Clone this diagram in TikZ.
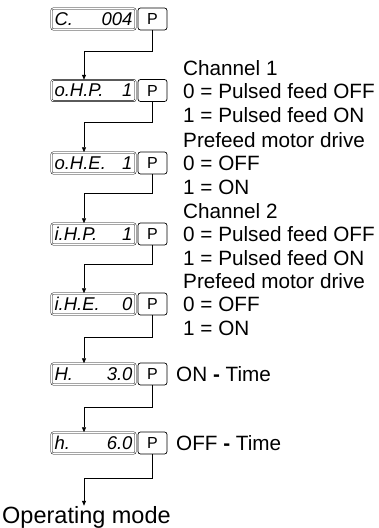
\documentclass[tikz,border=0pt]{standalone}
\usepackage{fontspec}
\setmainfont{Liberation Sans}
\newfontfamily\segfont{Liberation Sans}
\usetikzlibrary{arrows.meta}
\tikzset{
  disp/.style={draw, double, double distance=0.9pt, line width=0.45pt, rounded corners=2pt,
    minimum width=84pt, minimum height=21pt, inner sep=0pt},
  pbox/.style={draw, line width=0.7pt, rounded corners=2.5pt, minimum width=29pt, minimum height=22pt,
    inner sep=0pt, font=\fontsize{16}{16}\selectfont},
  conn/.style={draw, line width=0.7pt, -{Triangle[length=5pt,width=4pt]}},
  txt/.style={anchor=base west, inner sep=0pt, font=\fontsize{20.7}{20.7}\selectfont},
}
\newcommand{\dsp}[2]{\makebox[78pt]{\segfont\itshape\fontsize{18.5}{18.5}\selectfont #1\hfill #2}}
\begin{document}
\begin{tikzpicture}[x=1pt,y=-1pt]
\useasboundingbox (0,0) rectangle (378,528);
% displays
\node[disp] (d1) at (93.5,19) {\dsp{C.}{004}};
\node[pbox] (p1) at (152.5,19) {P};
\node[disp] (d2) at (93.5,90.5) {\dsp{o.H.P.}{1}};
\node[pbox] (p2) at (152.5,90.5) {P};
\node[disp] (d3) at (93.5,163) {\dsp{o.H.E.}{1}};
\node[pbox] (p3) at (152.5,163) {P};
\node[disp] (d4) at (93.5,234) {\dsp{i.H.P.}{1}};
\node[pbox] (p4) at (152.5,234) {P};
\node[disp] (d5) at (93.5,304) {\dsp{i.H.E.}{0}};
\node[pbox] (p5) at (152.5,304) {P};
\node[disp] (d6) at (93.5,374) {\dsp{H.}{3.0}};
\node[pbox] (p6) at (152.5,374) {P};
\node[disp] (d7) at (93.5,443) {\dsp{h.}{6.0}};
\node[pbox] (p7) at (152.5,443) {P};
\node[anchor=base west, inner sep=0pt, font=\fontsize{23.5}{23.5}\selectfont] (om) at (2,523) {Operating mode};
% connectors
\coordinate (k2) at (84,51);
\coordinate (k3) at (84,122);
\coordinate (k4) at (84,193);
\coordinate (k5) at (84,264);
\coordinate (k6) at (84,337);
\coordinate (k7) at (84,407);
\coordinate (k8) at (84,478);
\draw[conn] (p1.south) |- (k2) -- (k2 |- d2.north);
\draw[conn] (p2.south) |- (k3) -- (k3 |- d3.north);
\draw[conn] (p3.south) |- (k4) -- (k4 |- d4.north);
\draw[conn] (p4.south) |- (k5) -- (k5 |- d5.north);
\draw[conn] (p5.south) |- (k6) -- (k6 |- d6.north);
\draw[conn] (p6.south) |- (k7) -- (k7 |- d7.north);
\draw[conn] (p7.south) |- (k8) -- (k8 |- om.north);
% texts
\node[txt] (t1) at (183,75) {Channel 1};
\node[txt] (t2) at (183,98.5) {0 = Pulsed feed OFF};
\node[txt] (t3) at (183,122) {1 = Pulsed feed ON};
\node[txt] (t4) at (183,147) {Prefeed motor drive};
\node[txt] (t5) at (183,170.5) {0 = OFF};
\node[txt] (t6) at (183,194) {1 = ON};
\node[txt] (t7) at (183,218) {Channel 2};
\node[txt] (t8) at (183,241.5) {0 = Pulsed feed OFF};
\node[txt] (t9) at (183,265) {1 = Pulsed feed ON};
\node[txt] (t10) at (183,288) {Prefeed motor drive};
\node[txt] (t11) at (183,311.5) {0 = OFF};
\node[txt] (t12) at (183,335) {1 = ON};
\node[txt] (t13) at (176,381.5) {ON \textbf{-} Time};
\node[txt] (t14) at (176,450.5) {OFF \textbf{-} Time};
\end{tikzpicture}
\end{document}
